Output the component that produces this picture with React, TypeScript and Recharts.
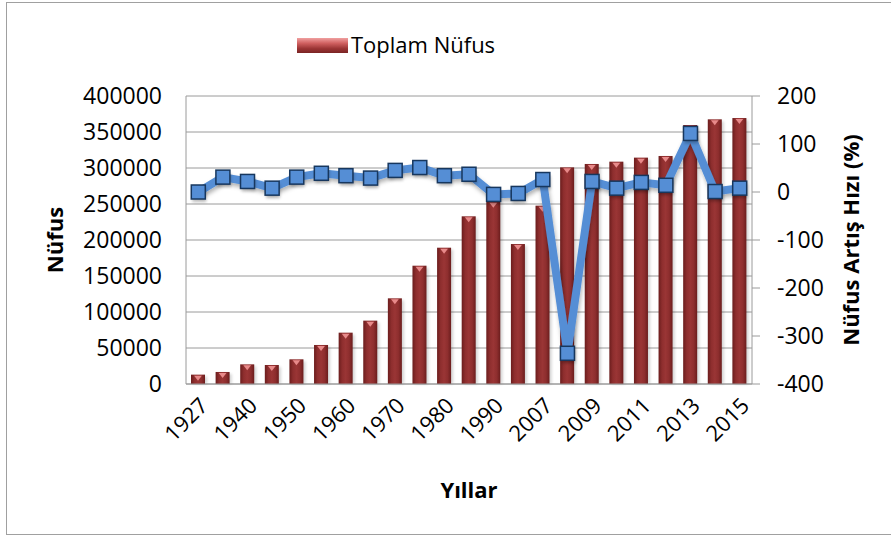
import React from 'react';
import { ComposedChart, Bar, Line, XAxis, YAxis, CartesianGrid, Label } from 'recharts';

const years = ['1927', '1935', '1940', '1945', '1950', '1955', '1960', '1965', '1970', '1975', '1980', '1985', '1990', '2000', '2007', '2008', '2009', '2010', '2011', '2012', '2013', '2014', '2015'];
const population = [13000, 16700, 27300, 26400, 34300, 54200, 71300, 88000, 119000, 164300, 189300, 232900, 253000, 194400, 247700, 300900, 305600, 308800, 314400, 316700, 359700, 367600, 369400];
const growthRate = [0, 31, 22, 8, 31, 39, 34, 29, 45, 51, 34, 37, -5, -3, 26, -336, 22, 8, 20, 14, 122, 1, 8];
const leftTicks = [0, 50000, 100000, 150000, 200000, 250000, 300000, 350000, 400000];
const rightTicks = [-400, -300, -200, -100, 0, 100, 200];

const data = years.map((y, i) => ({ year: y, pop: population[i], rate: growthRate[i] }));

const FONT = '"Open Sans", "Liberation Sans", sans-serif';

const BarShape = (props: any) => {
  const { x, y, width, height } = props;
  if (!height || height <= 0) return null;
  const tw = width * 0.55;
  const cx = x + width / 2;
  return (
    <g>
      <rect x={x + 2} y={y + 2} width={width} height={height - 2} fill="#000" opacity={0.18} filter="url(#blurSh)" />
      <rect x={x} y={y} width={width} height={height} fill="url(#barGrad)" />
      <polygon points={`${cx - tw / 2},${y + 1} ${cx + tw / 2},${y + 1} ${cx},${y + 6}`} fill="#e88a8a" />
    </g>
  );
};

const SquareDot = (props: any) => {
  const { cx, cy } = props;
  if (cx == null || cy == null) return null;
  const s = 14;
  return (
    <g>
      <rect x={cx - s / 2 + 1} y={cy - s / 2 + 3} width={s} height={s} fill="#000" opacity={0.25} filter="url(#blurSh)" />
      <rect x={cx - s / 2} y={cy - s / 2} width={s} height={s} fill="#558ed5" stroke="#17375e" strokeWidth={1.5} />
    </g>
  );
};

export default function App() {
  return (
    <div style={{ position: 'absolute', left: 0, top: 0, width: 891, height: 538, background: '#fff', fontFamily: FONT }}>
      <div style={{ position: 'absolute', left: 6, top: 2, width: 900, height: 533, border: '1.5px solid #a0a0a0', boxSizing: 'border-box' }} />
      <div style={{ position: 'absolute', left: 297, top: 38, width: 51, height: 15, background: 'linear-gradient(to bottom, #f0a0a0 0%, #d06060 35%, #9b3535 70%, #7a2424 100%)' }} />
      <div style={{ position: 'absolute', left: 351, top: 28, fontSize: 22, lineHeight: '32px', color: '#000', whiteSpace: 'nowrap' }}>Toplam Nüfus</div>
      <div style={{ position: 'absolute', left: 0, top: 0 }}>
        <ComposedChart width={891} height={538} data={data} margin={{ top: 96, right: 39, bottom: 40, left: 86 }}>
          <defs>
            <linearGradient id="barGrad" x1="0" y1="0" x2="1" y2="0">
              <stop offset="0%" stopColor="#6b1d1d" />
              <stop offset="25%" stopColor="#8e2e2e" />
              <stop offset="50%" stopColor="#9a3535" />
              <stop offset="75%" stopColor="#8e2e2e" />
              <stop offset="100%" stopColor="#6b1d1d" />
            </linearGradient>
            <filter id="blurSh" x="-50%" y="-50%" width="200%" height="200%">
              <feGaussianBlur stdDeviation="1.5" />
            </filter>
            <filter id="lineSh" x="-10%" y="-10%" width="120%" height="130%">
              <feDropShadow dx="1" dy="3" stdDeviation="2" floodColor="#000" floodOpacity="0.3" />
            </filter>
          </defs>
          <CartesianGrid horizontal vertical={false} stroke="#9a9a9a" strokeWidth={1} yAxisId="left" />
          <XAxis
            dataKey="year"
            interval={1}
            height={114}
            tickLine={false}
            axisLine={{ stroke: '#9a9a9a' }}
            angle={-45}
            textAnchor="end"
            tickMargin={6}
            tick={{ fill: '#000', fontSize: 22, fontFamily: FONT }}
          >
            <Label value="Yıllar" position="insideBottom" offset={0} style={{ fill: '#000', fontSize: 22, fontWeight: 700, fontFamily: FONT }} />
          </XAxis>
          <YAxis
            yAxisId="left"
            orientation="left"
            width={100}
            domain={[0, 400000]}
            ticks={leftTicks}
            tickLine={false}
            tickSize={0}
            tickMargin={24}
            axisLine={{ stroke: '#9a9a9a' }}
            tick={{ fill: '#000', fontSize: 23, fontFamily: FONT }}
          >
            <Label value="Nüfus" angle={-90} position="insideLeft" offset={-31} style={{ fill: '#000', fontSize: 22, fontWeight: 700, fontFamily: FONT, textAnchor: 'middle' }} />
          </YAxis>
          <YAxis
            yAxisId="right"
            orientation="right"
            width={100}
            domain={[-400, 200]}
            ticks={rightTicks}
            tickSize={8}
            tickMargin={17}
            tickLine={{ stroke: '#9a9a9a' }}
            axisLine={{ stroke: '#9a9a9a' }}
            tick={{ fill: '#000', fontSize: 23, fontFamily: FONT, textAnchor: 'start' }}
          >
            <Label value="Nüfus Artış Hızı (%)" angle={-90} position="insideRight" offset={1} style={{ fill: '#000', fontSize: 22, fontWeight: 700, fontFamily: FONT, textAnchor: 'middle' }} />
          </YAxis>
          <Bar yAxisId="left" dataKey="pop" barSize={14} shape={<BarShape />} isAnimationActive={false} />
          <Line
            yAxisId="right"
            dataKey="rate"
            type="linear"
            stroke="#558ed5"
            strokeWidth={8}
            strokeLinejoin="round"
            filter="url(#lineSh)"
            dot={<SquareDot />}
            activeDot={false}
            isAnimationActive={false}
          />
        </ComposedChart>
      </div>
    </div>
  );
}
